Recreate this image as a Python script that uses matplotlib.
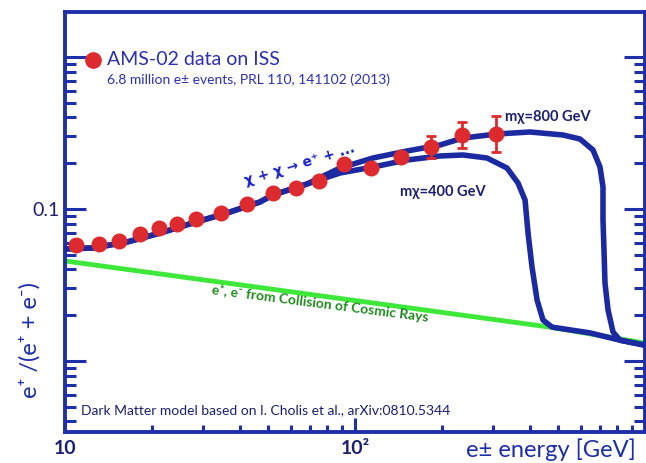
import matplotlib
matplotlib.use("Agg")
import matplotlib.pyplot as plt
from matplotlib.ticker import FixedLocator, NullFormatter

plt.rcParams['font.family'] = ['Lato', 'DejaVu Sans']

# ---- AMS-02 positron fraction points ----
ams_energy = [10.9, 13.1, 15.4, 18.1, 21.1, 24.3, 28.3, 34.5, 42.4,
              52.1, 62.6, 75.1, 91.6, 113.6, 144.1, 182.9, 233.9, 306.4]
ams_frac = [0.0580, 0.0589, 0.0616, 0.0685, 0.0750, 0.0797, 0.0860, 0.0941, 0.1079,
            0.1274, 0.1374, 0.1528, 0.1978, 0.1861, 0.2198, 0.2558, 0.3068, 0.3114]
ams_err_lo = [0, 0, 0, 0, 0, 0, 0, 0, 0, 0, 0, 0, 0, 0, 0, 0.039, 0.055, 0.074]
ams_err_hi = [0, 0, 0, 0, 0, 0, 0, 0, 0, 0, 0, 0, 0, 0, 0, 0.046, 0.067, 0.098]

# ---- dark matter model, m_chi = 800 GeV ----
dm800_energy = [10, 12.5, 16.4, 21.3, 27.6, 36.2, 47.0, 52.1, 68.3, 88.8, 115.4,
                151.1, 196.4, 235.7, 308.8, 401.4, 521.4, 596.8, 661.8, 699.5,
                716.4, 716.4, 722.1, 727.8, 745.6, 775.9, 820.1, 1000]
dm800_frac = [0.0546, 0.0554, 0.0607, 0.0695, 0.0809, 0.0941, 0.1112, 0.1236, 0.1460,
              0.1861, 0.2165, 0.2407, 0.2637, 0.2931, 0.3114, 0.3211, 0.3068, 0.2887,
              0.2444, 0.1889, 0.1395, 0.0847, 0.0537, 0.0326, 0.0217, 0.0155, 0.0137,
              0.0127]

# ---- dark matter model, m_chi = 400 GeV ----
dm400_energy = [10, 12.5, 16.4, 21.3, 27.6, 36.2, 47.0, 52.1, 68.3, 88.8, 115.4,
                151.1, 196.4, 235.7, 285.2, 334.2, 364.8, 385.8, 395.1, 407.8,
                424.4, 444.9, 477.9, 646.1, 820.1, 1000]
dm400_frac = [0.0546, 0.0554, 0.0607, 0.0695, 0.0809, 0.0941, 0.1112, 0.1236, 0.1460,
              0.1725, 0.1889, 0.2101, 0.2232, 0.2266, 0.2165, 0.1861, 0.1483, 0.1146,
              0.0695, 0.0415, 0.0252, 0.0186, 0.0167, 0.0153, 0.0137, 0.0127]

# ---- secondary production (green line) ----
bg_energy = [10, 470.3, 1000]
bg_frac = [0.0455, 0.0167, 0.0131]

navy = '#1b2aa0'
frame = '#1f2fa8'
red = '#dd2a2e'
fonts = ['Lato', 'DejaVu Sans']

fig = plt.figure(figsize=(6.46, 4.63), dpi=100)
ax = fig.add_axes([65 / 646, 31 / 463, 580 / 646, 420 / 463])

ax.plot(bg_energy, bg_frac, color='#3ee83a', lw=3.5, solid_capstyle='butt', zorder=2)
ax.plot(dm400_energy, dm400_frac, color=navy, lw=4, zorder=3, solid_joinstyle='round')
ax.plot(dm800_energy, dm800_frac, color=navy, lw=4, zorder=3, solid_joinstyle='round')
ax.errorbar(ams_energy, ams_frac, yerr=[ams_err_lo, ams_err_hi], fmt='o', color=red,
            ms=10.5, mec=red, elinewidth=2, capsize=3.5, capthick=2, zorder=5)

ax.set_xscale('log')
ax.set_yscale('log')
ax.set_xlim(10, 1000)
ax.set_ylim(0.00341, 1.977)

# ticks
ax.xaxis.set_major_locator(FixedLocator([10, 100, 1000]))
ax.set_xticklabels(['10', '10²', ''])
ax.xaxis.set_minor_locator(FixedLocator([k * 10 ** d for d in (1, 2) for k in range(2, 10)]))
ax.xaxis.set_minor_formatter(NullFormatter())
ax.yaxis.set_major_locator(FixedLocator([0.01, 0.1, 1]))
ax.set_yticklabels(['', '0.1', ''])
ax.yaxis.set_minor_locator(FixedLocator([k * 10 ** d for d in (-3, -2, -1) for k in range(2, 10)]))
ax.yaxis.set_minor_formatter(NullFormatter())

ax.tick_params(axis='x', which='major', direction='in', length=10, width=2.2,
               color=frame, labelsize=14, labelcolor='#1a1f70', pad=6, top=False)
ax.tick_params(axis='x', which='minor', direction='in', length=5, width=2.2,
               color=frame, top=False)
ax.tick_params(axis='y', which='major', direction='in', length=15, width=2.2,
               color=frame, labelsize=14, labelcolor='#1a1f70', right=True, pad=4)
ax.tick_params(axis='y', which='minor', direction='in', length=8, width=2.2,
               color=frame, right=True)
for lab in ax.get_xticklabels():
    lab.set_fontweight('bold')

for sp in ax.spines.values():
    sp.set_color(frame)
    sp.set_linewidth(2.8)

# labels and annotations
fig.text(30 / 646, 1 - 340 / 463, 'e⁺ /(e⁺ + e⁻)', rotation=90, ha='center',
         va='center', fontsize=17, color='#1c2ea8', family=fonts)
fig.text(636 / 646, 1 - 450 / 463, 'e± energy [GeV]', ha='right', va='center',
         fontsize=17, color='#1c2ea8')

ax.plot([0.048], [0.886], 'o', color=red, ms=11, transform=ax.transAxes, clip_on=False)
ax.text(0.072, 0.886, 'AMS-02 data on ISS', transform=ax.transAxes, fontsize=14,
        color='#2a30b0', va='center')
ax.text(0.072, 0.838, '6.8 million e± events, PRL 110, 141102 (2013)',
        transform=ax.transAxes, fontsize=10, color='#2a30b0', va='center')

ax.text(0.405, 0.636, 'χ + χ → e⁺ + ...', transform=ax.transAxes, fontsize=10,
        color='#1a22c8', fontweight='bold', rotation=17, ha='center', va='center',
        family=['DejaVu Sans'])
ax.text(0.759, 0.75, 'mχ=800 GeV', transform=ax.transAxes, fontsize=10.5,
        color='#1a1f70', fontweight='bold', va='center', family=fonts)
ax.text(0.578, 0.571, 'mχ=400 GeV', transform=ax.transAxes, fontsize=10.5,
        color='#1a1f70', fontweight='bold', va='center', family=fonts)
ax.text(0.44, 0.307, 'e⁺, e⁻ from Collision of Cosmic Rays', transform=ax.transAxes,
        fontsize=10, color='#1d8a1d', fontweight='bold', rotation=-7.3,
        ha='center', va='center', family=fonts)
ax.text(0.0276, 0.052, 'Dark Matter model based on I. Cholis et al., arXiv:0810.5344',
        transform=ax.transAxes, fontsize=10, color='#1a1f70', va='center')

fig.savefig('out.png', dpi=100)
